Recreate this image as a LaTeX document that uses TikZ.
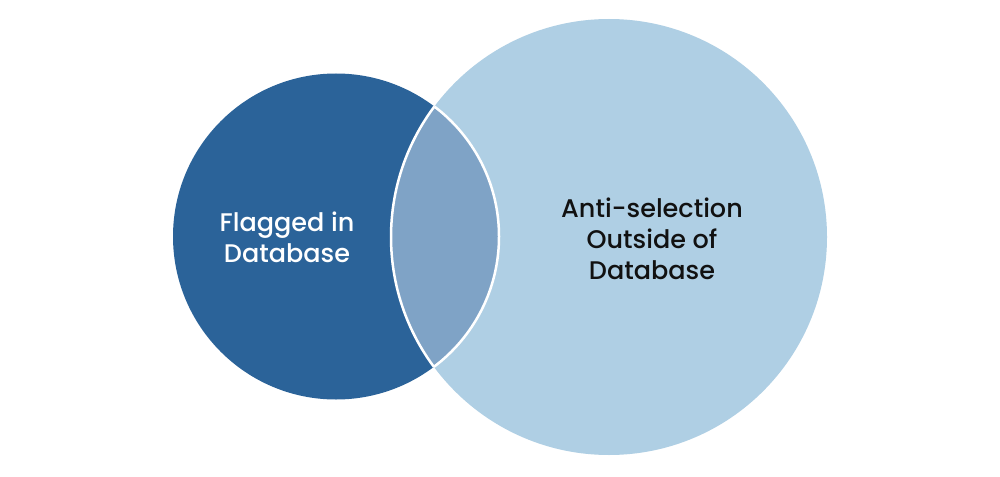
\documentclass[tikz,border=0pt]{standalone}
\usepackage{fontspec}
\setmainfont{Poppins}
\newfontfamily\medfont{Poppins Medium}
\definecolor{darkblue}{HTML}{2B6399}
\definecolor{lightblue}{HTML}{AFCFE4}
\definecolor{lensblue}{HTML}{7FA3C6}
\definecolor{txtdark}{HTML}{111111}
\begin{document}
\begin{tikzpicture}[x=1pt,y=-1pt,
  venn/.style={circle, inner sep=0pt, outer sep=0pt},
  label/.style={align=center, font=\medfont\fontsize{25.5}{31}\selectfont}]
\useasboundingbox (0,0) rectangle (1000,476);
\fill[white] (0,0) rectangle (1000,476);
\node[venn, fill=darkblue, minimum size=326pt] (L) at (336,236.5) {};
\node[venn, fill=lightblue, minimum size=436pt] (R) at (609,237) {};
\begin{scope}
  \clip (336,236.5) circle (163);
  \fill[lensblue] (609,237) circle (218);
  \draw[white, line width=2.5pt] (609,237) circle (218);
\end{scope}
\begin{scope}
  \clip (609,237) circle (218);
  \draw[white, line width=2.5pt] (336,236.5) circle (163);
\end{scope}
\node[label, text=white] (tL) at (287,237) {Flagged in\\Database};
\node[label, text=txtdark] (tR) at (652,239) {Anti-selection\\Outside of\\Database};
\end{tikzpicture}
\end{document}
